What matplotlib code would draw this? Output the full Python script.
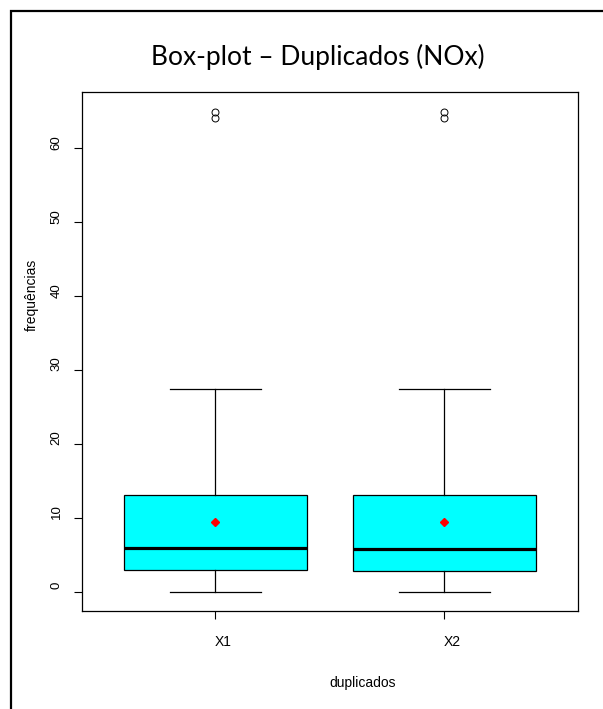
import matplotlib
matplotlib.use('Agg')
import matplotlib.pyplot as plt
import matplotlib.transforms as mtransforms
from matplotlib.patches import Rectangle

# values
groups = ['X1', 'X2']
q1 = [2.94, 2.80]
medians = [5.87, 5.73]
q3 = [13.1, 13.1]
whisk_lo = [0.0, 0.0]
whisk_hi = [27.5, 27.5]
means = [9.49, 9.49]
outliers = [[64.1, 65.0], [64.1, 65.0]]

plt.rcParams['font.family'] = ['Liberation Sans', 'DejaVu Sans']

fig = plt.figure(figsize=(6.03, 7.09), dpi=100)
ax = fig.add_axes([82 / 603, 1 - 611 / 709, (577.7 - 82) / 603, (611 - 92.3) / 709])

stats = []
for i in range(len(groups)):
    stats.append(dict(label=groups[i], q1=q1[i], med=medians[i], q3=q3[i],
                      whislo=whisk_lo[i], whishi=whisk_hi[i], mean=means[i],
                      fliers=outliers[i]))

ax.bxp(stats, positions=[1, 2], widths=0.8, capwidths=0.4, patch_artist=True,
       showmeans=True,
       boxprops=dict(facecolor='#00ffff', edgecolor='black', linewidth=0.9),
       medianprops=dict(color='black', linewidth=2.3),
       whiskerprops=dict(color='black', linewidth=0.9),
       capprops=dict(color='black', linewidth=0.9),
       flierprops=dict(marker='o', markersize=5, markerfacecolor='none',
                       markeredgecolor='black', markeredgewidth=0.7),
       meanprops=dict(marker='D', markersize=3.6, markerfacecolor='red',
                      markeredgecolor='red'))

ax.set_xlim(0.4175, 2.5825)
ax.set_ylim(-2.6, 67.6)
ax.set_yticks([0, 10, 20, 30, 40, 50, 60])
ax.tick_params(axis='y', labelrotation=90, length=6, width=0.8, pad=8, labelsize=9.5)
ax.tick_params(axis='x', length=6, width=0.8, pad=11, labelsize=10)
for lab in ax.get_yticklabels():
    lab.set_va('center')
    lab.set_transform(lab.get_transform() + mtransforms.ScaledTranslation(0, 0.06, fig.dpi_scale_trans))
for lab in ax.get_xticklabels():
    lab.set_transform(lab.get_transform() + mtransforms.ScaledTranslation(0.08, 0, fig.dpi_scale_trans))
for s in ax.spines.values():
    s.set_linewidth(0.9)

ax.set_xlabel('duplicados', fontsize=10)
ax.xaxis.set_label_coords(0.567, -0.125)
ax.set_ylabel('frequências', fontsize=10)
ax.yaxis.set_label_coords(-0.088, 0.609)

fig.text(318 / 603, 1 - 65 / 709, 'Box-plot – Duplicados (NOx)', family='Lato',
         fontsize=19, ha='center', va='baseline')

# page frame around the picture
fig.add_artist(Rectangle((10.5 / 603, -0.1), 1.2, 1 - 10.5 / 709 + 0.1,
                         transform=fig.transFigure, fill=False,
                         edgecolor='black', linewidth=1.6))

fig.savefig('out.png', dpi=100)
